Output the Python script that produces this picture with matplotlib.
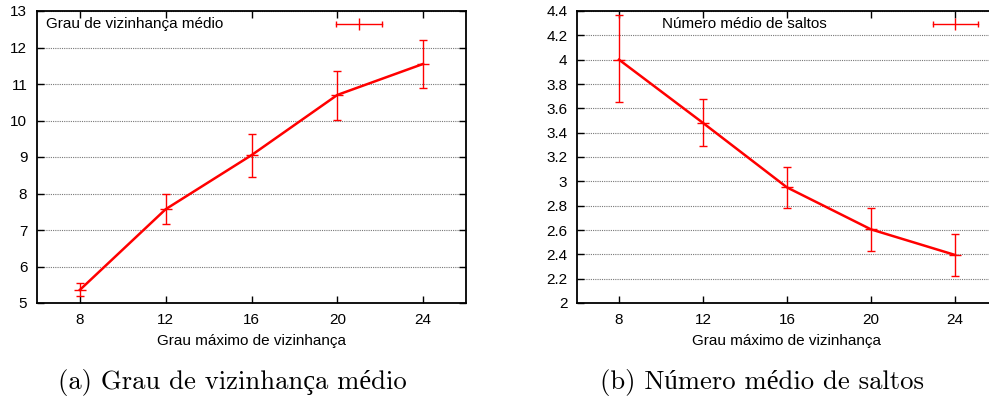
import matplotlib
matplotlib.use("Agg")
import matplotlib.pyplot as plt
from matplotlib.ticker import FuncFormatter, MultipleLocator
from matplotlib.lines import Line2D

# Data
grau_max = [8, 12, 16, 20, 24]
grau_medio = [5.36, 7.57, 9.05, 10.70, 11.55]
grau_medio_low = [5.18, 7.16, 8.46, 10.02, 10.88]
grau_medio_high = [5.55, 7.99, 9.62, 11.36, 12.21]

saltos = [4.00, 3.48, 2.95, 2.605, 2.395]
saltos_low = [3.65, 3.29, 2.78, 2.43, 2.22]
saltos_high = [4.365, 3.68, 3.12, 2.78, 2.565]

xlabel = "Grau máximo de vizinhança"
legend_a = "Grau de vizinhança médio"
legend_b = "Número médio de saltos"
caption_a = "(a) Grau de vizinhança médio"
caption_b = "(b) Número médio de saltos"

W, H = 989, 396
fig = plt.figure(figsize=(W / 100, H / 100), dpi=100)
sans = ["Liberation Sans", "DejaVu Sans"]
serif = ["cmr10", "Liberation Serif", "DejaVu Serif"]

RED = "#ff0000"
FS = 11


def px_axes(l, r, t, b):
    return fig.add_axes([l / W, 1 - b / H, (r - l) / W, (b - t) / H])


def style(ax, ylim, ystep):
    ax.set_xlim(6, 26)
    ax.set_ylim(*ylim)
    ax.xaxis.set_major_locator(MultipleLocator(4))
    ax.yaxis.set_major_locator(MultipleLocator(ystep))
    ax.yaxis.set_major_formatter(FuncFormatter(lambda v, p: "%g" % round(v, 2)))
    ax.tick_params(direction="in", length=5, width=1, top=True, right=True,
                   labelsize=FS, pad=7)
    for lab in ax.get_xticklabels() + ax.get_yticklabels():
        lab.set_family(sans)
    ax.grid(axis="y", color="#777777", linestyle=(0, (1, 1)), linewidth=0.8)
    ax.set_axisbelow(True)
    for s in ax.spines.values():
        s.set_linewidth(1.3)
    ax.set_xlabel(xlabel, family=sans, fontsize=FS, labelpad=5)


def draw(ax, y, lo, hi):
    yerr = [[v - l for v, l in zip(y, lo)], [h - v for v, h in zip(y, hi)]]
    ax.errorbar(grau_max, y, yerr=yerr, color=RED, linewidth=1.8,
                elinewidth=1.0, capsize=3, capthick=1.0,
                marker="_", markersize=8, markeredgewidth=1.0, zorder=3)


def legend(ax, text, tx, sx0, sx1, ty):
    ax.text(tx, ty, text, transform=ax.transAxes, family=sans, fontsize=FS,
            ha="left", va="center")
    ax.add_line(Line2D([sx0, sx1], [ty, ty], transform=ax.transAxes,
                       color=RED, lw=1.0, marker="|", markevery=[0, 1],
                       markersize=5))
    ax.add_line(Line2D([(sx0 + sx1) / 2], [ty], transform=ax.transAxes,
                       color=RED, marker="|", markersize=8, mew=1.0))


# Left panel
axa = px_axes(37, 466, 11, 303)
style(axa, (5, 13), 1)
draw(axa, grau_medio, grau_medio_low, grau_medio_high)
legend(axa, legend_a, (46 - 37) / 429, (336 - 37) / 429, (382 - 37) / 429,
       1 - (24 - 11) / 292)

# Right panel (clipped at figure edge)
axb = px_axes(577, 997, 11, 303)
style(axb, (2, 4.4), 0.2)
draw(axb, saltos, saltos_low, saltos_high)
legend(axb, legend_b, (662 - 577) / 420, (933 - 577) / 420, (978 - 577) / 420,
       1 - (24 - 11) / 292)

fig.text(232 / W, 1 - 382 / H, caption_a, family=serif, fontsize=19.2,
         ha="center", va="center")
fig.text(762 / W, 1 - 382 / H, caption_b, family=serif, fontsize=19.2,
         ha="center", va="center")

fig.savefig("out.png", dpi=100)
